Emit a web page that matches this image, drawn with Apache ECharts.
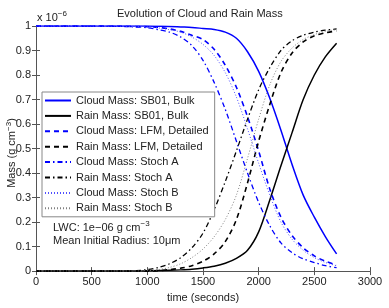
<!DOCTYPE html>
<html><head><meta charset="utf-8">
<script src="https://cdn.jsdelivr.net/npm/echarts@6/dist/echarts.min.js"></script>
<style>html,body{margin:0;padding:0;background:#fff}#c{width:389px;height:308px}</style>
</head><body><div id="c"></div>
<script>
var times = [0,100,200,300,400,500,600,700,800,900,1000,1100,1200,1300,1400,1500,1600,1700,1800,1900,2000,2100,2200,2300,2400,2500,2600,2700];
var cloudSB01 = [1,1,1,1,1,1,1,1,1,1,1,0.999,0.998,0.996,0.994,0.99,0.986,0.975,0.95,0.895,0.815,0.705,0.575,0.435,0.31,0.22,0.14,0.07];
var rainSB01 = [0,0,0,0,0,0,0,0,0,0,0.001,0.002,0.003,0.005,0.008,0.013,0.02,0.032,0.052,0.085,0.16,0.29,0.43,0.565,0.70,0.80,0.875,0.93];
var cloudLFM = [1,1,1,1,1,1,1,1,0.999,0.998,0.997,0.994,0.988,0.978,0.962,0.945,0.905,0.84,0.75,0.63,0.49,0.335,0.22,0.145,0.095,0.062,0.04,0.025];
var rainLFM = [0,0,0,0,0,0,0,0,0,0,0,0.002,0.006,0.012,0.022,0.04,0.07,0.12,0.21,0.36,0.53,0.68,0.81,0.89,0.935,0.96,0.972,0.98];
var cloudStochA = [1,1,1,1,1,1,1,0.999,0.998,0.996,0.993,0.985,0.975,0.955,0.92,0.86,0.77,0.66,0.53,0.40,0.28,0.185,0.115,0.075,0.05,0.035,0.022,0.014];
var rainStochA = [0,0,0,0,0,0,0,0,0,0.002,0.006,0.015,0.03,0.055,0.095,0.155,0.25,0.365,0.49,0.62,0.74,0.83,0.9,0.94,0.962,0.975,0.983,0.988];
var cloudStochB = [1,1,1,1,1,1,1,1,0.999,0.998,0.996,0.992,0.985,0.975,0.955,0.925,0.88,0.81,0.71,0.58,0.44,0.31,0.2,0.13,0.085,0.055,0.035,0.022];
var rainStochB = [0,0,0,0,0,0,0,0,0,0,0.002,0.006,0.015,0.03,0.055,0.09,0.14,0.21,0.31,0.46,0.62,0.76,0.855,0.91,0.945,0.965,0.978,0.985];
var xTicks = [0,500,1000,1500,2000,2500,3000];
var yTicks = [0,0.1,0.2,0.3,0.4,0.5,0.6,0.7,0.8,0.9,1];

var FONT = 'Liberation Sans, Arial, sans-serif';
var TXT = '#222';
function pairs(v){ return times.map(function(t,i){ return [t, v[i]]; }); }
function ser(name, vals, color, type, width){
  return {name:name, type:'line', data:pairs(vals), symbol:'none', smooth:0.3,
    lineStyle:{color:color, type:type, width:width}, itemStyle:{color:color}, z:3};
}
var series = [
  ser('Cloud Mass: SB01, Bulk', cloudSB01, '#0000ff', 'solid', 1.5),
  ser('Rain Mass: SB01, Bulk', rainSB01, '#000000', 'solid', 1.5),
  ser('Cloud Mass: LFM, Detailed', cloudLFM, '#0000ff', [5,4], 1.6),
  ser('Rain Mass: LFM, Detailed', rainLFM, '#000000', [5,4], 1.6),
  ser('Cloud Mass: Stoch A', cloudStochA, '#0000ff', [5,3,1.5,3], 1.3),
  ser('Rain Mass: Stoch A', rainStochA, '#000000', [5,3,1.5,3], 1.3),
  ser('Cloud Mass: Stoch B', cloudStochB, '#5050ff', [1,2], 1),
  ser('Rain Mass: Stoch B', rainStochB, '#808080', [1,2], 1)
];
var rich = {a:{fontFamily:FONT, fontSize:11, fill:TXT, color:TXT, verticalAlign:'bottom', lineHeight:13},
            s:{fontFamily:FONT, fontSize:8, fill:TXT, color:TXT, verticalAlign:'bottom', padding:[0,0,5,0], lineHeight:9}};

var chart = echarts.init(document.getElementById('c'), null, {renderer:'canvas'});
var axisLine = {show:true, lineStyle:{color:'#555', width:1}};
chart.setOption({
  animation:false,
  backgroundColor:'#fff',
  grid:{left:36, right:19, top:26, bottom:28, containLabel:false},
  xAxis:[
    {type:'value', min:0, max:3000, interval:500, position:'bottom',
     axisLine:axisLine, axisTick:{show:true, inside:true, length:4, lineStyle:{color:'#555'}},
     splitLine:{show:false},
     axisLabel:{color:TXT, fontFamily:FONT, fontSize:11, margin:5, formatter:function(v){return xTicks.indexOf(v)>=0?String(v):'';}},
     name:'time (seconds)', nameLocation:'middle', nameGap:19,
     nameTextStyle:{color:TXT, fontFamily:FONT, fontSize:11}},
    {type:'value', min:0, max:3000, interval:500, position:'top',
     axisLine:axisLine, axisTick:{show:true, inside:true, length:4, lineStyle:{color:'#555'}},
     splitLine:{show:false}, axisLabel:{show:false}}
  ],
  yAxis:[
    {type:'value', min:0, max:1, interval:0.1, position:'left',
     axisLine:axisLine, axisTick:{show:true, inside:true, length:4, lineStyle:{color:'#555'}},
     splitLine:{show:false},
     axisLabel:{color:TXT, fontFamily:FONT, fontSize:11, margin:5, formatter:function(v){
       var r = Math.round(v*10)/10; return yTicks.indexOf(r)>=0?String(r):'';}}},
    {type:'value', min:0, max:1, interval:0.1, position:'right',
     axisLine:axisLine, axisTick:{show:true, inside:true, length:4, lineStyle:{color:'#555'}},
     splitLine:{show:false}, axisLabel:{show:false}}
  ],
  legend:{
    orient:'vertical', left:42, top:92, itemWidth:26, itemHeight:12, itemGap:4.4,
    padding:[3,6,3,2], borderColor:'#888', borderWidth:1, backgroundColor:'#fff',
    itemStyle:{opacity:0, borderWidth:0},
    textStyle:{color:TXT, fontFamily:FONT, fontSize:11},
    data:series.map(function(s){return s.name;})
  },
  series:series,
  graphic:[
    {type:'text', left:117, top:8, z:10, style:{text:'Evolution of Cloud and Rain Mass', fill:TXT, font:'11px '+FONT}},
    {type:'text', x:37, y:10, z:10, style:{text:'{a|x 10}{s|−6}', fill:TXT, rich:rich}},
    {type:'text', x:11, y:153, rotation:Math.PI/2, z:10, style:{text:'{a|Mass (g cm}{s|−3}{a|)}', align:'center', verticalAlign:'middle', rich:rich}},
    {type:'text', x:53, y:220, z:10, style:{text:'{a|LWC: 1e−06 g cm}{s|−3}', fill:TXT, rich:rich}},
    {type:'text', x:53, y:235, z:10, style:{text:'Mean Initial Radius: 10μm', fill:TXT, font:'11px '+FONT}}
  ]
});
</script></body></html>
